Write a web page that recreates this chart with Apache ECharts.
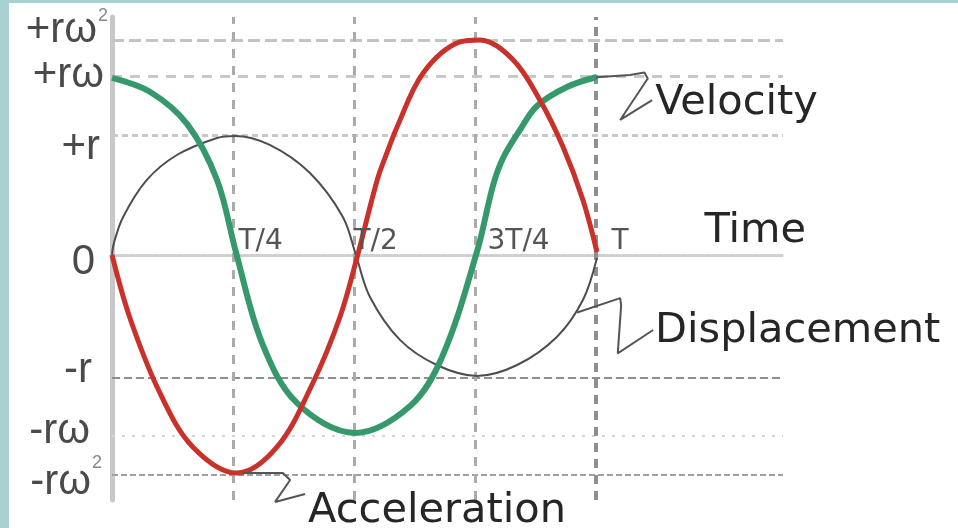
<!DOCTYPE html>
<html>
<head>
<meta charset="utf-8">
<script src="https://cdn.jsdelivr.net/npm/echarts@6/dist/echarts.min.js"></script>
<style>
  html, body { margin: 0; padding: 0; background: #fff; }
  #main { width: 958px; height: 528px; box-shadow: inset 9px 3px 0 #a9d0d3; }
</style>
</head>
<body>
<div id="main"></div>
<script>
// time in periods (T), amplitude in units of r
const velT = [0, 0.079, 0.155, 0.217, 0.256, 0.310, 0.382, 0.502,
  0.616, 0.682, 0.754, 0.787, 0.808, 0.843, 0.878, 0.940, 1.002];
const velocity = [1.475, 1.358, 1.092, 0.625, 0.025, -0.733, -1.233, -1.483,
  -1.258, -0.850, 0.025, 0.575, 0.808, 1.042, 1.242, 1.400, 1.483];

const accT = [0, 0.037, 0.099, 0.167, 0.258, 0.341, 0.415, 0.471, 0.506, 0.548,
  0.568, 0.589, 0.643, 0.719, 0.760, 0.829, 0.884, 0.932, 0.973, 1.002];
const acceleration = [0, -0.525, -1.150, -1.600, -1.817, -1.600, -1.067, -0.517, -0.025, 0.625,
  0.850, 1.067, 1.517, 1.775, 1.792, 1.625, 1.292, 0.900, 0.458, 0.025];

const dispT = [0, 0.004, 0.023, 0.072, 0.134, 0.217, 0.254, 0.326, 0.409, 0.477,
  0.504, 0.533, 0.595, 0.671, 0.754, 0.837, 0.919, 0.973, 1.002];
const displacement = [0, 0.100, 0.317, 0.625, 0.833, 0.975, 0.992, 0.917, 0.683, 0.317,
  0, -0.350, -0.708, -0.917, -1.008, -0.917, -0.683, -0.375, -0.025];

const levelValues = [1.79, 1.49, 1, 0, -1.02, -1.51, -1.83];
const levelLabels = ['+rω²', '+rω', '+r', '0', '-r', '-rω', '-rω²'];
const tickValues = [0.25, 0.5, 0.75, 1];
const tickLabels = ['T/4', 'T/2', '3T/4', 'T'];
const timeLabelAt = [1.225, 0];

// callout pointers (t, r)
const velPointer = [[1.0, 1.48], [1.07, 1.50], [1.10, 1.52], [1.107, 1.47], [1.05, 1.125], [1.116, 1.29]];
const dispPointer = [[0.961, -0.48], [1.05, -0.36], [1.052, -0.42], [1.045, -0.82], [1.118, -0.625]];
const accPointer = [[0.271, -1.817], [0.353, -1.817], [0.368, -1.875], [0.337, -2.058], [0.399, -1.992]];

const pairs = (xs, ys) => xs.map((x, i) => [x, ys[i]]);

// y label nudges: [down px, right gap px], superscript raise px
const yNudge = [[-10, 0], [-1, 4], [12, 8], [7, 13], [-7, 16], [-5, 18], [8, 6]];
const supRaise = [24, 0, 0, 0, 0, 0, 12];
const yRich = {};
levelLabels.forEach((txt, i) => {
  const sup = txt.endsWith('²');
  const d = yNudge[i][0], r = yNudge[i][1];
  yRich['m' + i] = {
    fontFamily: 'Liberation Sans', fontSize: 42, color: '#4a4a4a',
    padding: [Math.max(d, 0) * 2, sup ? 0 : r, Math.max(-d, 0) * 2, 0]
  };
  if (sup) {
    yRich['s' + i] = {
      fontFamily: 'Liberation Sans', fontSize: 18, color: '#888',
      padding: [0, r, supRaise[i] * 2, 1]
    };
  }
});

const tickPad = [6, 0, 13, 16];

const hStyles = {
  '1.79': { color: '#c4c4c4', width: 3, type: [12, 5] },
  '1.49': { color: '#c8c8c8', width: 3, type: [10, 8] },
  '1': { color: '#c8c8c8', width: 3, type: [6, 4] },
  '-1.02': { color: '#8e8e8e', width: 2, type: [8, 4] },
  '-1.51': { color: '#d6d6d6', width: 2, type: [3, 7] },
  '-1.83': { color: '#a0a0a0', width: 2, type: [6, 3] }
};

const guideLines = [];
levelValues.forEach(v => {
  if (v !== 0) guideLines.push({ yAxis: v, lineStyle: hStyles[String(v)] });
});
tickValues.forEach(v => {
  guideLines.push({
    xAxis: v,
    lineStyle: v === 1 ? { color: '#8f8f8f', width: 4, type: [9, 7] } : { color: '#ababab', width: 3, type: [9, 8] }
  });
});

const bigText = { fontFamily: 'DejaVu Sans', fontSize: 41.5, color: '#262626' };

// text anchored on the time axis
const axisTexts = tickValues.map((v, i) => ({
  value: [v, 0],
  name: tickLabels[i],
  label: {
    position: [tickPad[i], 1], align: 'left', verticalAlign: 'bottom',
    fontFamily: 'DejaVu Sans', fontSize: 28, color: '#555'
  }
}));
axisTexts.push({
  value: timeLabelAt,
  name: 'Time',
  label: Object.assign({ position: [0, -2], align: 'left', verticalAlign: 'bottom' }, bigText)
});

function pointer(name, data, offset) {
  return {
    name: name,
    type: 'line',
    data: data,
    symbol: 'none',
    clip: false,
    z: 6,
    lineStyle: { color: '#555', width: 2 },
    endLabel: Object.assign({ show: true, formatter: '{a}', distance: 3, offset: offset }, bigText),
    silent: true
  };
}

const chart = echarts.init(document.getElementById('main'));
chart.setOption({
  animation: false,
  grid: { left: 112, right: 175, top: 17, bottom: 28, outerBoundsMode: 'none' },
  xAxis: {
    type: 'value', min: 0, max: 1.3864,
    axisLine: { onZero: true, lineStyle: { color: '#cfcfcf', width: 3, type: [4, 2] } },
    axisTick: { show: false },
    splitLine: { show: false },
    axisLabel: { show: false }
  },
  yAxis: {
    type: 'value', min: -2.042, max: 1.983,
    axisLine: { show: true, lineStyle: { color: '#c8c8c8', width: 5 } },
    axisTick: { show: false },
    splitLine: { show: false },
    axisLabel: {
      customValues: levelValues,
      margin: 4,
      formatter: v => {
        const i = levelValues.indexOf(v);
        if (i < 0) return '';
        const txt = levelLabels[i];
        if (txt.endsWith('²')) return '{m' + i + '|' + txt.slice(0, -1) + '}{s' + i + '|2}';
        return '{m' + i + '|' + txt + '}';
      },
      rich: yRich
    }
  },
  series: [
    {
      name: 'displacement',
      type: 'line',
      data: pairs(dispT, displacement),
      smooth: 0.35,
      symbol: 'none',
      z: 3,
      lineStyle: { color: '#4d4d4d', width: 2 },
      markLine: {
        silent: true,
        z: 1,
        symbol: ['none', 'none'],
        label: { show: false },
        data: guideLines
      }
    },
    {
      name: 'velocity',
      type: 'line',
      data: pairs(velT, velocity),
      smooth: 0.35,
      symbol: 'none',
      z: 4,
      lineStyle: { color: '#36996b', width: 6 }
    },
    {
      name: 'acceleration',
      type: 'line',
      data: pairs(accT, acceleration),
      smooth: 0.35,
      symbol: 'none',
      z: 5,
      lineStyle: { color: '#c9312b', width: 5 }
    },
    pointer('Velocity', velPointer, [0, 3]),
    pointer('Displacement', dispPointer, [-1, 1]),
    pointer('Acceleration', accPointer, [0, 17]),
    {
      name: 'axis texts',
      type: 'scatter',
      data: axisTexts,
      symbolSize: 1,
      itemStyle: { color: 'transparent', opacity: 1 },
      z: 7,
      silent: true,
      label: { show: true, formatter: '{b}' }
    }
  ]
});
</script>
</body>
</html>
